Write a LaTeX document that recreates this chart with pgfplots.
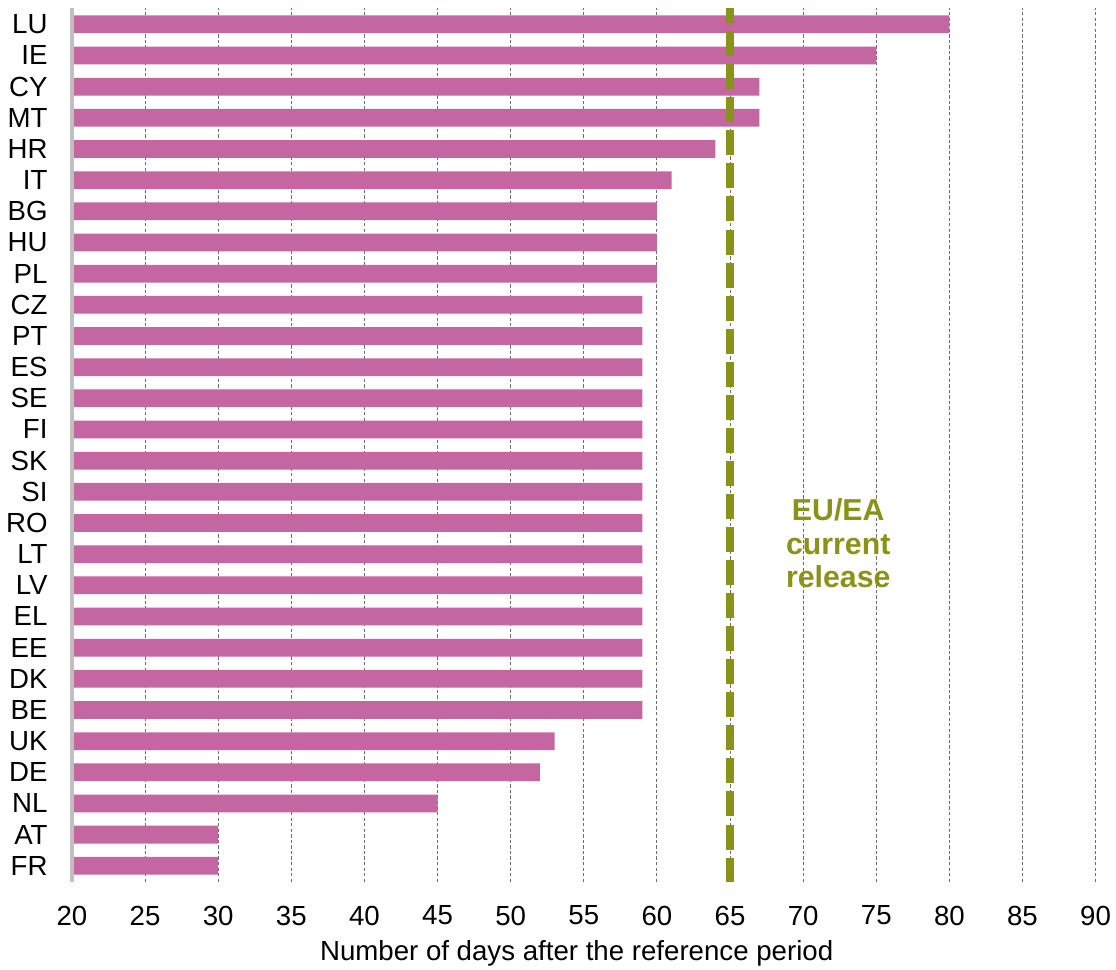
\documentclass[border=0pt]{standalone}
\usepackage{fontspec}
\setmainfont{Liberation Sans}
\usepackage{pgfplots}
\pgfplotsset{compat=1.18}

\definecolor{barpink}{RGB}{196,102,161}
\definecolor{eugreen}{RGB}{139,146,24}
\definecolor{gridgray}{RGB}{110,110,110}
\definecolor{axisgray}{RGB}{192,192,192}

\begin{document}
\begin{tikzpicture}
\useasboundingbox (0,0) rectangle (401.76pt,348.84pt);
\begin{axis}[
  at={(25.92pt,31.32pt)}, anchor=south west,
  scale only axis,
  width=368.5pt, height=314.6pt,
  xbar, bar width=0.57,
  xmin=20, xmax=90,
  ymin=-0.52, ymax=27.52,
  xtick={20,25,...,90},
  ytick={0,...,27},
  yticklabels={FR,AT,NL,DE,UK,BE,DK,EE,EL,LV,LT,RO,SI,SK,FI,SE,ES,PT,CZ,PL,HU,BG,IT,HR,MT,CY,IE,LU},
  major tick length=0pt,
  axis line style={draw=none},
  xmajorgrids,
  major grid style={gridgray, line width=0.36pt, dash pattern=on 1.2pt off 0.8pt},
  font=\fontsize{9.95}{12}\selectfont,
  /pgf/number format/assume math mode=true,
  xticklabel style={inner sep=0pt},
  yticklabel style={inner sep=0pt},
  xticklabel shift=8.4pt,
  yticklabel shift=8.6pt,
  xlabel={Number of days after the reference period},
  xlabel style={at={(axis description cs:0.493,0)}, anchor=center, yshift=-25.6pt, inner sep=0pt},
  clip mode=individual,
]
\addplot[fill=barpink, draw=none] coordinates {
  (30,0) (30,1) (45,2) (52,3) (53,4)
  (59,5) (59,6) (59,7) (59,8) (59,9) (59,10) (59,11) (59,12) (59,13)
  (59,14) (59,15) (59,16) (59,17) (59,18)
  (60,19) (60,20) (60,21) (61,22) (64,23) (67,24) (67,25) (75,26) (80,27)
};
% left axis rule
\draw[axisgray, line width=1.1pt] (rel axis cs:0,0) -- (rel axis cs:0,1);
% EU/EA current release marker
\draw[eugreen, line width=2.9pt, dash pattern=on 9pt off 2.9pt, dash phase=3.6pt]
  (axis cs:65,27.52) -- (axis cs:65,-0.52);
\node[eugreen, font=\fontsize{10.9}{12}\selectfont\bfseries, align=center]
  at (axis cs:72.4,10.35) {EU/EA\\current\\release};
\end{axis}
\end{tikzpicture}
\end{document}
